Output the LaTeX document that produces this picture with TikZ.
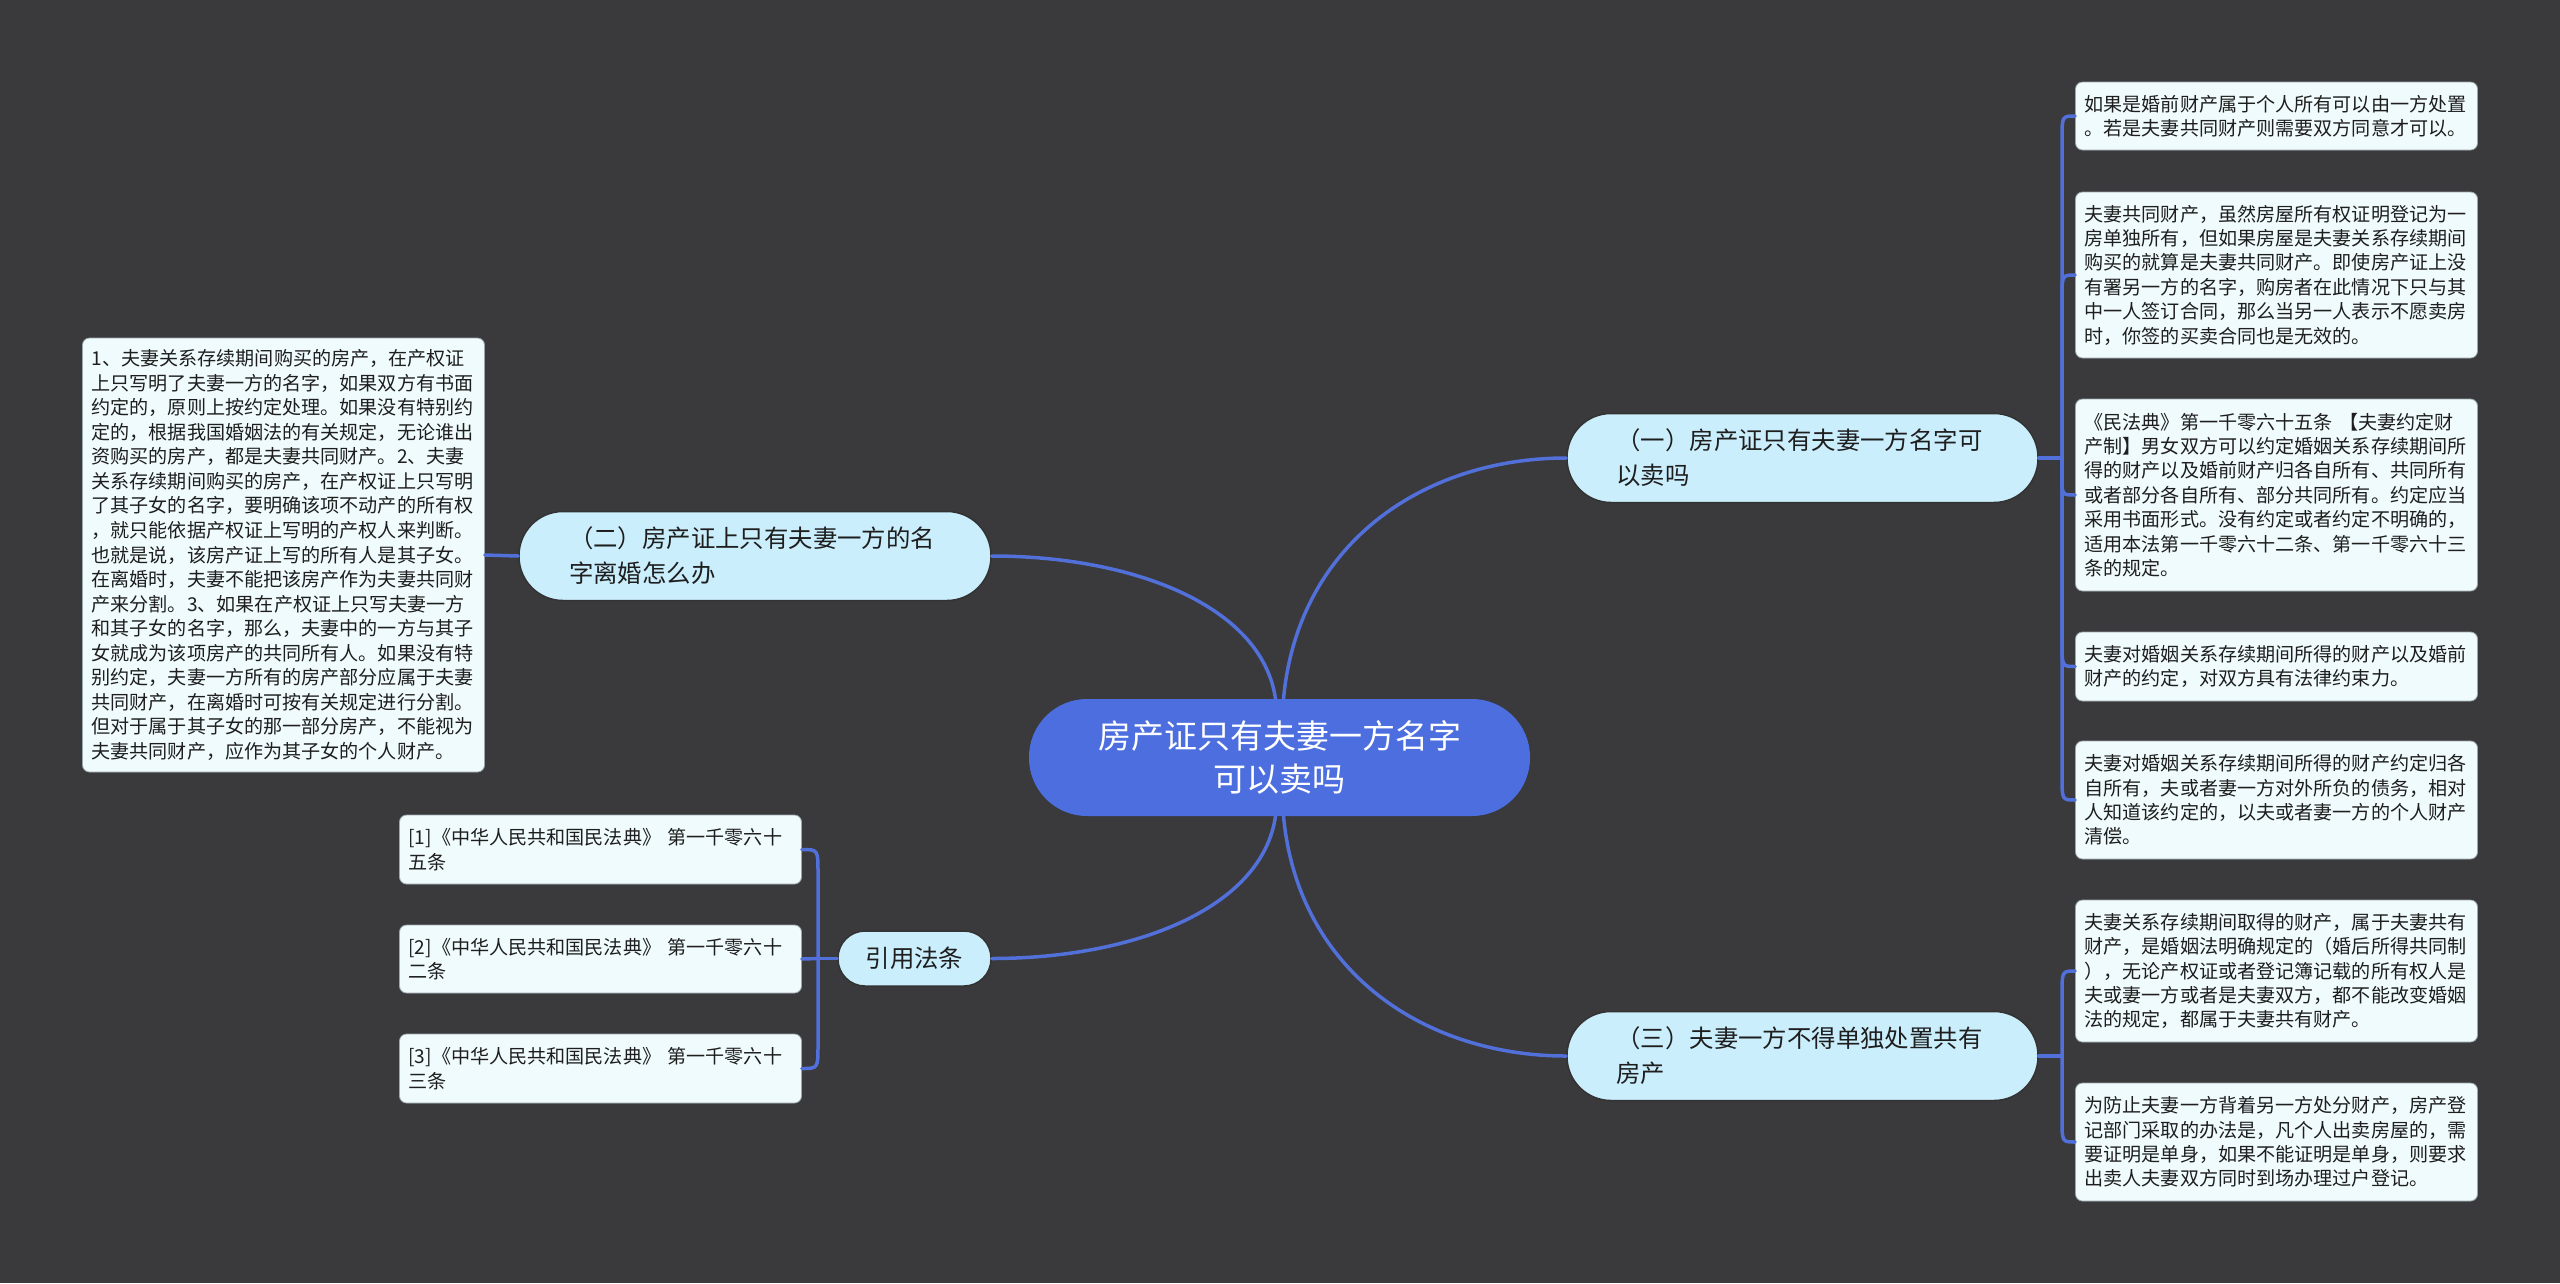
\documentclass[tikz,border=0pt]{standalone}
\usepackage{fontspec}
\setmainfont{Noto Sans CJK SC}
\usetikzlibrary{calc}
\definecolor{bgc}{HTML}{3A393B}
\definecolor{centerfill}{HTML}{4D6EDF}
\definecolor{branchfill}{HTML}{CBEEFC}
\definecolor{leaffill}{HTML}{F0FBFD}
\definecolor{leafline}{HTML}{9AA7AB}
\definecolor{linkc}{HTML}{5270DA}
\definecolor{txt}{HTML}{1E1E1E}
\tikzset{
  centerbox/.style={rectangle, rounded corners=58pt, fill=centerfill, text=white,
    minimum width=501pt, minimum height=117pt, inner sep=0pt, align=center,
    font=\fontsize{33}{42.5}\selectfont},
  branchbox/.style={rectangle, rounded corners=44pt, fill=branchfill, draw=black!80,
    line width=1.5pt, text=txt, minimum height=89pt, inner sep=0pt, align=left,
    font=\fontsize{24.4}{35}\selectfont},
  leafbox/.style={rectangle, rounded corners=7pt, fill=leaffill, draw=leafline,
    line width=0.8pt, text=txt, text width=384pt, inner xsep=9pt, inner ysep=0pt,
    align=left, font=\fontsize{19.1}{24.4}\selectfont},
  link/.style={draw=linkc, line width=3.5pt, line cap=round},
}
\begin{document}
\begin{tikzpicture}[x=1pt,y=-1pt]
\fill[bgc] (0,0) rectangle (2560,1283);
\useasboundingbox (0,0) rectangle (2560,1283);

% junctions
\coordinate (j1) at (2062,458);
\coordinate (j3) at (2062,1056);
\coordinate (j4) at (818,958.5);

% central
\node[centerbox] (c) at (1279.5,757.5) {房产证只有夫妻一方名字\\可以卖吗};

% branches
\node[branchbox, minimum width=471pt, text width=372pt] (b1) at (1802.5,458) {（一）房产证只有夫妻一方名字可\\以卖吗};
\node[branchbox, minimum width=472pt, text width=372pt] (b2) at (755,556) {（二）房产证上只有夫妻一方的名\\字离婚怎么办};
\node[branchbox, minimum width=471pt, text width=372pt] (b3) at (1802.5,1056) {（三）夫妻一方不得单独处置共有\\房产};
\node[branchbox, minimum width=153pt, minimum height=55pt, rounded corners=27pt, align=center] (b4) at (914.5,958.5) {引用法条};

% right leaves of (一)
\node[leafbox, minimum height=68pt] (r1) at (2276.5,116) {如果是婚前财产属于个人所有可以由一方处置\\。若是夫妻共同财产则需要双方同意才可以。};
\node[leafbox, minimum height=166pt] (r2) at (2276.5,275) {夫妻共同财产，虽然房屋所有权证明登记为一\\房单独所有，但如果房屋是夫妻关系存续期间\\购买的就算是夫妻共同财产。即使房产证上没\\有署另一方的名字，购房者在此情况下只与其\\中一人签订合同，那么当另一人表示不愿卖房\\时，你签的买卖合同也是无效的。};
\node[leafbox, minimum height=192pt] (r3) at (2276.5,495) {《民法典》第一千零六十五条 【夫妻约定财\\产制】男女双方可以约定婚姻关系存续期间所\\得的财产以及婚前财产归各自所有、共同所有\\或者部分各自所有、部分共同所有。约定应当\\采用书面形式。没有约定或者约定不明确的，\\适用本法第一千零六十二条、第一千零六十三\\条的规定。};
\node[leafbox, minimum height=69pt] (r4) at (2276.5,666.5) {夫妻对婚姻关系存续期间所得的财产以及婚前\\财产的约定，对双方具有法律约束力。};
\node[leafbox, minimum height=118pt] (r5) at (2276.5,800) {夫妻对婚姻关系存续期间所得的财产约定归各\\自所有，夫或者妻一方对外所负的债务，相对\\人知道该约定的，以夫或者妻一方的个人财产\\清偿。};

% right leaves of (三)
\node[leafbox, minimum height=142pt] (r6) at (2276.5,971) {夫妻关系存续期间取得的财产，属于夫妻共有\\财产，是婚姻法明确规定的（婚后所得共同制\\），无论产权证或者登记簿记载的所有权人是\\夫或妻一方或者是夫妻双方，都不能改变婚姻\\法的规定，都属于夫妻共有财产。};
\node[leafbox, minimum height=118pt] (r7) at (2276.5,1142) {为防止夫妻一方背着另一方处分财产，房产登\\记部门采取的办法是，凡个人出卖房屋的，需\\要证明是单身，如果不能证明是单身，则要求\\出卖人夫妻双方同时到场办理过户登记。};

% left leaf of (二)
\node[leafbox, minimum height=434pt, font=\fontsize{19.1}{24.55}\selectfont] (l1) at (283.5,555) {1、夫妻关系存续期间购买的房产，在产权证\\上只写明了夫妻一方的名字，如果双方有书面\\约定的，原则上按约定处理。如果没有特别约\\定的，根据我国婚姻法的有关规定，无论谁出\\资购买的房产，都是夫妻共同财产。2、夫妻\\关系存续期间购买的房产，在产权证上只写明\\了其子女的名字，要明确该项不动产的所有权\\，就只能依据产权证上写明的产权人来判断。\\也就是说，该房产证上写的所有人是其子女。\\在离婚时，夫妻不能把该房产作为夫妻共同财\\产来分割。3、如果在产权证上只写夫妻一方\\和其子女的名字，那么，夫妻中的一方与其子\\女就成为该项房产的共同所有人。如果没有特\\别约定，夫妻一方所有的房产部分应属于夫妻\\共同财产，在离婚时可按有关规定进行分割。\\但对于属于其子女的那一部分房产，不能视为\\夫妻共同财产，应作为其子女的个人财产。};

% citation leaves
\node[leafbox, minimum height=69pt] (q1) at (600.5,849.5) {[1]《中华人民共和国民法典》 第一千零六十\\五条};
\node[leafbox, minimum height=68pt] (q2) at (600.5,959) {[2]《中华人民共和国民法典》 第一千零六十\\二条};
\node[leafbox, minimum height=69pt] (q3) at (600.5,1068.5) {[3]《中华人民共和国民法典》 第一千零六十\\三条};

% main curves
\draw[link] ([xshift=4pt]c.north) .. controls (1298,542) and (1425,458) .. (b1.west);
\draw[link] ([xshift=-4pt]c.north) .. controls (1262,606) and (1133.5,556) .. (b2.east);
\draw[link] ([xshift=4pt]c.south) .. controls (1298,972) and (1425,1056) .. (b3.west);
\draw[link] ([xshift=-4pt]c.south) .. controls (1262,908.6) and (1133.5,958.5) .. (b4.east);

% (二) -> left leaf
\draw[link] (b2.west) -- (l1.east);

% bracket for (一)
\draw[link] (b1.east) -- (j1);
\draw[link] (j1) -- ([yshift=-24pt]j1 |- r1.west) .. controls (j1 |- r1.west) .. (r1.west);
\draw[link] (j1) -- ([yshift=-24pt]j1 |- r2.west) .. controls (j1 |- r2.west) .. (r2.west);
\draw[link] (j1) -- ([yshift=18pt]j1 |- r3.west) .. controls (j1 |- r3.west) .. (r3.west);
\draw[link] (j1) -- ([yshift=24pt]j1 |- r4.west) .. controls (j1 |- r4.west) .. (r4.west);
\draw[link] (j1) -- ([yshift=24pt]j1 |- r5.west) .. controls (j1 |- r5.west) .. (r5.west);

% bracket for (三)
\draw[link] (b3.east) -- (j3);
\draw[link] (j3) -- ([yshift=-24pt]j3 |- r6.west) .. controls (j3 |- r6.west) .. (r6.west);
\draw[link] (j3) -- ([yshift=24pt]j3 |- r7.west) .. controls (j3 |- r7.west) .. (r7.west);

% bracket for 引用法条
\draw[link] (b4.west) -- (j4);
\draw[link] (j4) -- ([yshift=-24pt]j4 |- q1.east) .. controls (j4 |- q1.east) .. (q1.east);
\draw[link] (j4) -- (q2.east);
\draw[link] (j4) -- ([yshift=24pt]j4 |- q3.east) .. controls (j4 |- q3.east) .. (q3.east);
\end{tikzpicture}
\end{document}
